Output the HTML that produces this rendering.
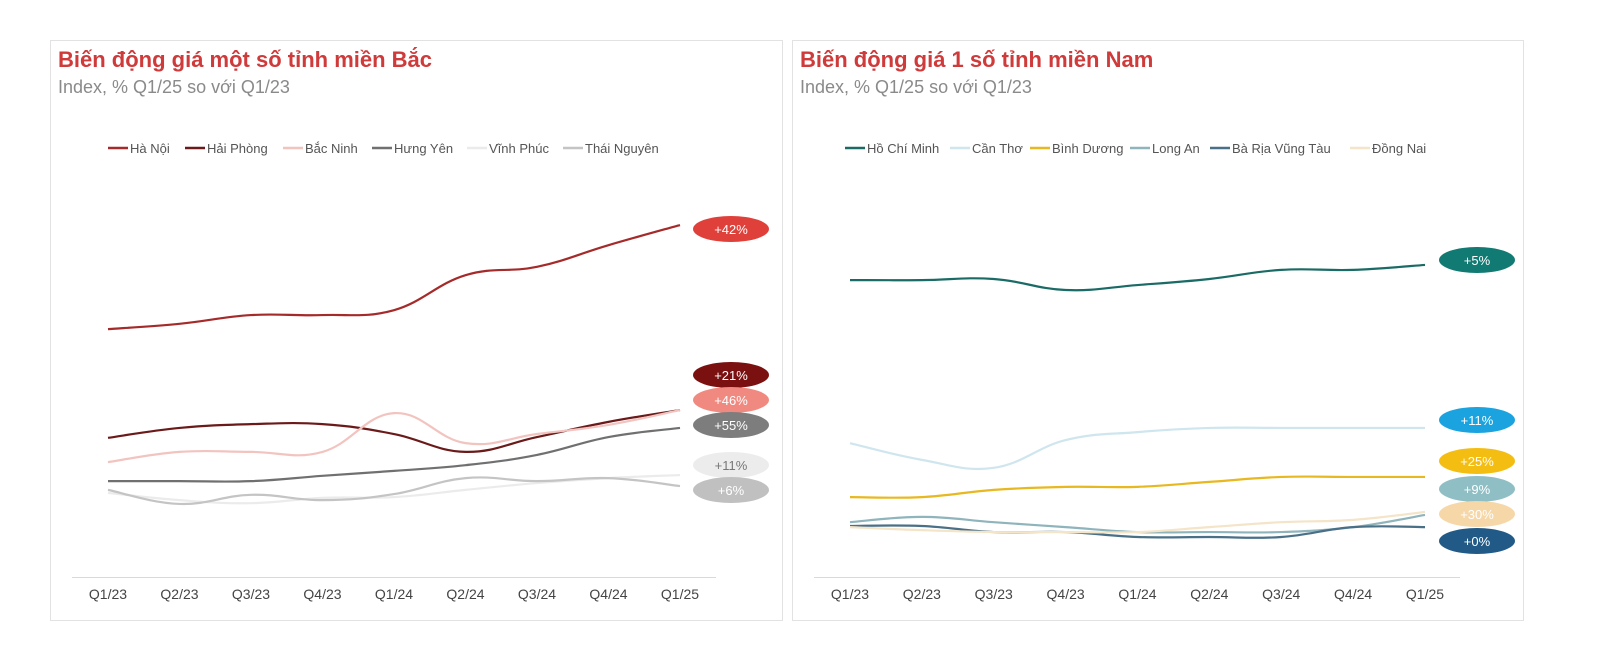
<!DOCTYPE html>
<html><head><meta charset="utf-8">
<style>
html,body{margin:0;padding:0;background:#fff;}
svg{display:block;font-family:"Liberation Sans",sans-serif;}
</style></head>
<body>
<svg id="svg" width="1600" height="670" viewBox="0 0 1600 670">
<rect x="50.5" y="40.5" width="732" height="580" fill="#fff" stroke="#e2e2e2"/>
<rect x="792.5" y="40.5" width="731" height="580" fill="#fff" stroke="#e2e2e2"/>
<text x="58" y="67" font-size="22" font-weight="bold" fill="#cf3a3a">Biến động giá một số tỉnh miền Bắc</text>
<text x="58" y="93" font-size="18" fill="#8a8a8a">Index, % Q1/25 so với Q1/23</text>
<text x="800" y="67" font-size="22" font-weight="bold" fill="#cf3a3a">Biến động giá 1 số tỉnh miền Nam</text>
<text x="800" y="93" font-size="18" fill="#8a8a8a">Index, % Q1/25 so với Q1/23</text>
<line x1="72" y1="577.5" x2="716" y2="577.5" stroke="#d9d9d9"/>
<line x1="814" y1="577.5" x2="1460" y2="577.5" stroke="#d9d9d9"/>
<g id="layer"></g>
</svg>
<script>
const quarters=["Q1/23","Q2/23","Q3/23","Q4/23","Q1/24","Q2/24","Q3/24","Q4/24","Q1/25"];
const northNames=["Hà Nội","Hải Phòng","Bắc Ninh","Hưng Yên","Vĩnh Phúc","Thái Nguyên"];
const hanoi=[64.7,66.1,68.4,68.4,69.7,78.9,81.1,86.8,92.1];
const haiphong=[36.1,38.7,39.7,39.7,37.1,32.4,36.3,40.3,43.4];
const bacninh=[29.7,32.4,32.4,32.4,42.6,34.7,37.1,39.5,43.4];
const hungyen=[24.7,24.7,24.7,26.1,27.4,28.9,31.6,36.3,38.7];
const vinhphuc=[21.6,19.7,18.9,20.3,20.5,22.4,24.2,25.5,26.3];
const thainguyen=[22.4,18.7,21.1,19.7,21.3,25.5,24.7,25.5,23.4];
const northLabels=["+42%","+21%","+46%","+55%","+11%","+6%"];
const southNames=["Hồ Chí Minh","Cần Thơ","Bình Dương","Long An","Bà Rịa Vũng Tàu","Đồng Nai"];
const hcm=[77.6,77.6,77.9,75,76.3,77.9,80.3,80.3,81.6];
const cantho=[34.7,30.3,28.2,35.5,37.6,38.7,38.7,38.7,38.7];
const binhduong=[20.5,20.5,22.4,23.2,23.2,24.5,25.8,25.8,25.8];
const longan=[13.9,15.3,13.9,12.6,11.3,11.3,11.3,12.6,15.8];
const brvt=[12.9,12.9,11.3,11.3,10,10,10,12.6,12.6];
const dongnai=[12.6,11.8,11.3,11.3,11.3,12.6,13.9,14.5,16.6];
const southLabels=["+5%","+11%","+25%","+9%","+30%","+0%"];

const NS="http://www.w3.org/2000/svg";
const layer=document.getElementById('layer');
function yS(v){return 575-v*3.8;}
function mk(tag,attrs,parent){const e=document.createElementNS(NS,tag);for(const k in attrs)e.setAttribute(k,attrs[k]);(parent||layer).appendChild(e);return e;}
function path(pts){let d="M"+pts[0][0]+","+pts[0][1];for(let i=0;i<pts.length-1;i++){const p0=pts[Math.max(0,i-1)],p1=pts[i],p2=pts[i+1],p3=pts[Math.min(pts.length-1,i+2)];const t=0.2;d+=" C"+(p1[0]+(p2[0]-p0[0])*t)+","+(p1[1]+(p2[1]-p0[1])*t)+" "+(p2[0]-(p3[0]-p1[0])*t)+","+(p2[1]-(p3[1]-p1[1])*t)+" "+p2[0]+","+p2[1];}return d;}

function chart(cfg){
  const xS=i=>cfg.x0+i*(cfg.x1-cfg.x0)/(quarters.length-1);
  quarters.forEach((q,i)=>{const t=mk('text',{x:xS(i),y:599,'font-size':14,'text-anchor':'middle',fill:'#444'});t.textContent=q;
    
    });
  cfg.names.forEach((n,k)=>{
    const lx=cfg.legX[k];
    const l=mk('line',{x1:lx,y1:148,x2:lx+20,y2:148,stroke:cfg.colors[k],'stroke-width':2.5});
    
    
    const t=mk('text',{x:lx+22,y:153,'font-size':13,fill:'#555'});t.textContent=n;
    
    
  });
  cfg.series.forEach((s,k)=>{
    const p=mk('path',{d:path(s.map((v,i)=>[xS(i),yS(v)])),fill:'none',stroke:cfg.colors[k],'stroke-width':2.2});
    
    
  });
  cfg.labels.forEach((lab,k)=>{
    const cy=cfg.labY[k];
    const e=mk('ellipse',{cx:cfg.bx,cy:cy,rx:38,ry:13,fill:cfg.bub[k]});
    
    
    const t=mk('text',{x:cfg.bx,y:cy+5,'font-size':13,'text-anchor':'middle',fill:cfg.txt[k]});t.textContent=lab;
    
    
  });
}
chart({x0:108,x1:680,names:northNames,series:[hanoi,haiphong,bacninh,hungyen,vinhphuc,thainguyen],
  colors:["#a52a2a","#6b1a1a","#f2c4c0","#707070","#ebebeb","#c4c4c4"],
  legX:[108,185,283,372,467,563],labels:northLabels,labY:[229,375,400,425,465,490],bx:731,
  bub:["#e0403a","#7a1010","#f08a80","#7d7d7d","#ececec","#c0c0c0"],txt:["#fff","#fff","#fff","#fff","#777","#fff"]});
chart({x0:850,x1:1425,names:southNames,series:[hcm,cantho,binhduong,longan,brvt,dongnai],
  colors:["#1a6b66","#cfe6ee","#e8b820","#8fb4bc","#4a7088","#f4e4c8"],
  legX:[845,950,1030,1130,1210,1350],labels:southLabels,labY:[260,420,461,489,514,541],bx:1477,
  bub:["#117a72","#1ba3e0","#f4bd12","#8fbfc4","#f5d7a8","#215a86"],txt:["#fff","#fff","#fff","#fff","#fff","#fff"]});
</script>
</body></html>
